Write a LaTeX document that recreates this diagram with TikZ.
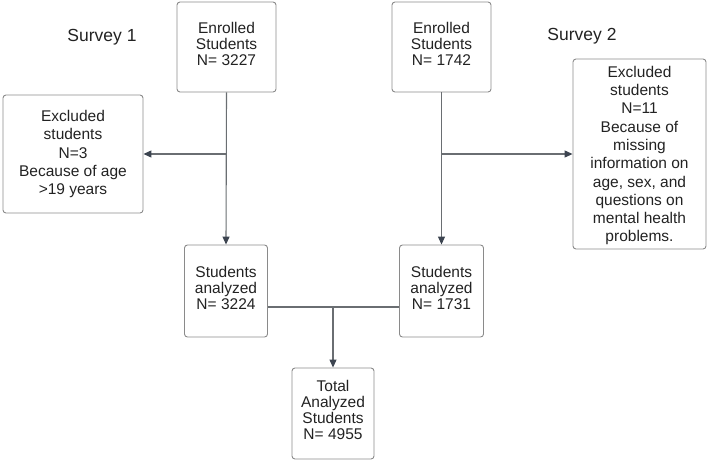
\documentclass[tikz,border=0pt]{standalone}
\usepackage{fontspec}
\setmainfont{Liberation Sans}
\usetikzlibrary{arrows.meta}
\definecolor{boxline}{HTML}{8A8A8A}
\definecolor{conn}{HTML}{6A6E72}
\definecolor{tip}{HTML}{3C4450}
\definecolor{txt}{HTML}{222222}
\begin{document}
\begin{tikzpicture}[x=1pt,y=-1pt,
  box/.style={draw=boxline, line width=0.9pt, rounded corners=3pt, align=center,
    text=txt, font=\fontsize{15.5}{16}\selectfont, inner sep=0pt},
  exbox/.style={box, font=\fontsize{15.5}{18.3}\selectfont},
  conline/.style={draw=conn, line width=1.1pt},
  arr/.style={conline, -{Triangle[length=8pt,width=7pt,fill=tip,color=tip]}},
  lbl/.style={text=txt, font=\fontsize{17.5}{20}\selectfont, inner sep=0pt}]
\useasboundingbox (0,0) rectangle (708,461);
\node[box, minimum width=99pt, minimum height=90pt, text depth=6pt] (e1) at (226.5,47) {Enrolled\\Students\\N= 3227};
\node[box, minimum width=99pt, minimum height=90pt, text depth=6pt] (e2) at (441.5,47) {Enrolled\\Students\\N= 1742};
\node[exbox, minimum width=140pt, minimum height=118pt] (x1) at (73,154) {Excluded\\students\\N=3\\Because of age\\>19 years};
\node[exbox, minimum width=133pt, minimum height=190pt, text depth=-7pt] (x2) at (639.5,154) {Excluded\\students\\N=11\\Because of\\missing\\information on\\age, sex, and\\questions on\\mental health\\problems.};
\node[box, minimum width=83pt, minimum height=92pt, text depth=6pt] (a1) at (226,291) {Students\\analyzed\\N= 3224};
\node[box, minimum width=84pt, minimum height=92pt, text depth=6pt] (a2) at (441.5,291) {Students\\analyzed\\N= 1731};
\node[box, minimum width=82pt, minimum height=91pt, text depth=8pt] (t) at (333,413.5) {Total\\Analyzed\\Students\\N= 4955};
\node[lbl] (s1) at (102,37) {Survey 1};
\node[lbl] (s2) at (582,36) {Survey 2};
\coordinate (j1) at (226,154);
\coordinate (j2) at (441.5,154);
\coordinate (a1r) at (a1.east |- 0,307);
\coordinate (a2l) at (a2.west |- 0,307);
\coordinate (jm) at (333,307);
\draw[arr] (e1.south) -- (a1.north);
\draw[arr] (e2.south) -- (a2.north);
\draw[arr] (j1) -- (x1.east);
\draw[arr] (j2) -- (x2.west);
\draw[conline] (a1r) -- (a2l);
\draw[arr] (jm) -- (t.north);
\end{tikzpicture}
\end{document}
